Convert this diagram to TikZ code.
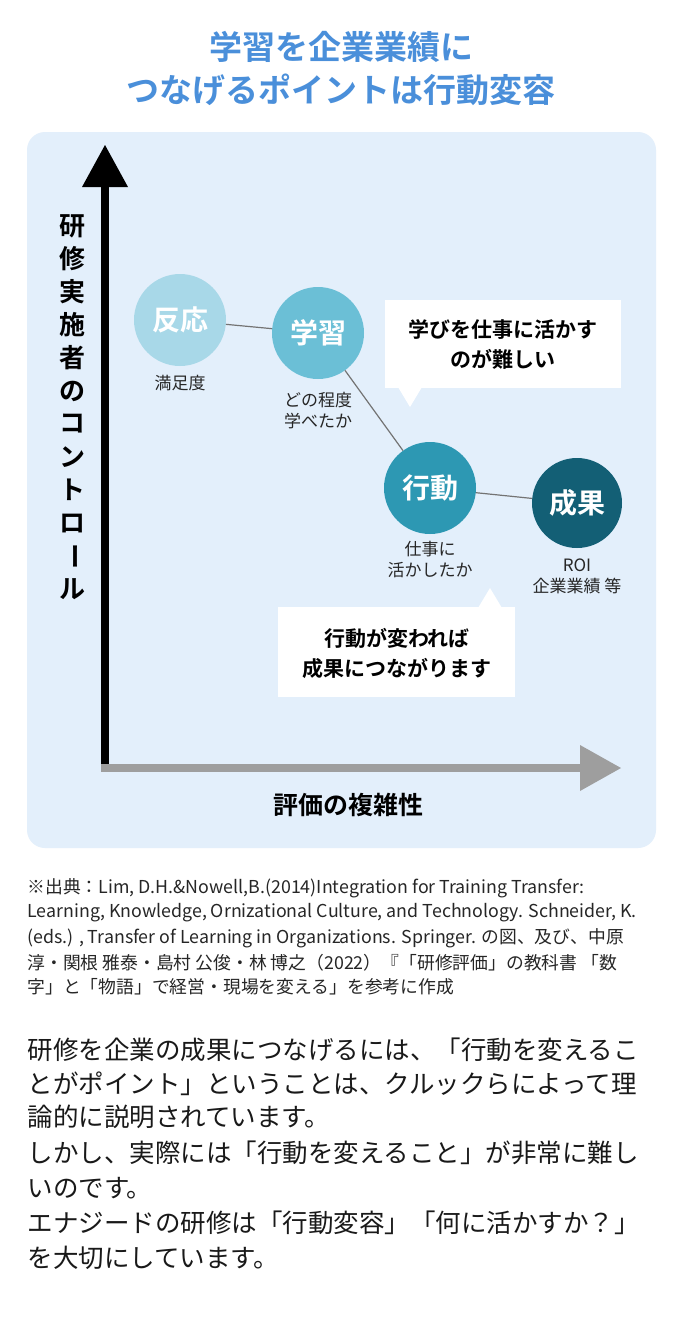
\documentclass[tikz,border=0pt]{standalone}
\usepackage{fontspec}
\setmainfont{Noto Sans CJK JP}[BoldFont={* Bold}]
\begin{document}
\begin{tikzpicture}[x=1pt,y=-1pt,
  circ/.style={circle,minimum size=92pt,inner sep=0pt,text=white,font=\fontsize{28}{30}\selectfont\bfseries},
  lab/.style={font=\fontsize{17}{21}\selectfont,align=center,text=black!85},
  conn/.style={draw=black!55,line width=1.2pt},
  calltext/.style={font=\fontsize{21}{30}\selectfont\bfseries,align=center},
  src/.style={anchor=west,font=\fontsize{17.8}{20}\selectfont,text=black!85},
  body/.style={anchor=west,font=\fontsize{25.5}{30}\selectfont,text=black!90}]
\useasboundingbox (0,0) rectangle (682,1318);
\fill[white] (0,0) rectangle (682,1318);
\definecolor{ttl}{HTML}{4A8FDA}
\node[text=ttl,font=\fontsize{33}{40}\selectfont\bfseries] (t1) at (341,47) {学習を企業業績に};
\node[text=ttl,font=\fontsize{33}{40}\selectfont\bfseries] (t2) at (341,90) {つなげるポイントは行動変容};
\fill[fill={rgb,255:red,227;green,239;blue,251},rounded corners=18pt] (27,132) rectangle (656,848);
% axes
\draw[line width=8pt,black] (105,770) -- (105,180);
\fill[black] (82,187) -- (105,145) -- (128,187) -- cycle;
\draw[line width=8pt,black!38] (101,768) -- (585,768);
\fill[black!38] (580,745) -- (621,768) -- (580,791) -- cycle;
\foreach \c [count=\i] in {研,修,実,施,者,の,コ,ン,ト,ロ}
  \node[font=\fontsize{26}{28}\selectfont\bfseries] (v\i) at (72,{193+33*\i}) {\c};
\node[font=\fontsize{26}{28}\selectfont\bfseries,rotate=-90] (v11) at (72,556) {ー};
\node[font=\fontsize{26}{28}\selectfont\bfseries] (v12) at (72,589) {ル};
\node[font=\fontsize{25}{28}\selectfont\bfseries] (xl) at (348,805) {評価の複雑性};
% circles
\node[circ,fill={rgb,255:red,168;green,216;blue,232}] (a) at (180,320) {反応};
\node[circ,fill={rgb,255:red,107;green,191;blue,214}] (b) at (318,333) {学習};
\node[circ,fill={rgb,255:red,45;green,152;blue,179}] (c) at (430,488) {行動};
\node[circ,fill={rgb,255:red,19;green,95;blue,117},minimum size=90pt] (d) at (577,503) {成果};
\draw[conn] (a) -- (b);
\draw[conn] (b) -- (c);
\draw[conn] (c) -- (d);
\node[lab] (la) at (180,383) {満足度};
\node[lab] (lb) at (318,411) {どの程度\\学べたか};
\node[lab] (lc) at (430,560) {仕事に\\活かしたか};
\node[lab] (ld) at (577,576) {ROI\\企業業績 等};
% callouts
\fill[white] (385,300) rectangle (621,388);
\fill[white] (398,387) -- (410,407) -- (422,387) -- cycle;
\node[calltext] (c1) at (503,344) {学びを仕事に活かす\\のが難しい};
\fill[white] (278,607) rectangle (515,697);
\fill[white] (478,608) -- (490,588) -- (502,608) -- cycle;
\node[calltext] (c2) at (397,653) {行動が変われば\\成果につながります};
% source
\node[src] (s1) at (24,888) {※出典：Lim, D.H.\&Nowell,B.(2014)Integration for Training Transfer:};
\node[src] (s2) at (24,913) {Learning, Knowledge, Ornizational Culture, and Technology. Schneider, K.};
\node[src] (s3) at (24,938) {(eds.) , Transfer of Learning in Organizations. Springer. の図、及び、中原};
\node[src] (s4) at (24,963) {淳・関根 雅泰・島村 公俊・林 博之（2022）『「研修評価」の教科書 「数};
\node[src] (s5) at (24,987) {字」と「物語」で経営・現場を変える」を参考に作成};
% body
\node[body] (b1) at (24,1050) {研修を企業の成果につなげるには、「行動を変えるこ};
\node[body] (b2) at (24,1084) {とがポイント」ということは、クルックらによって理};
\node[body] (b3) at (24,1117) {論的に説明されています。};
\node[body] (b4) at (24,1153) {しかし、実際には「行動を変えること」が非常に難し};
\node[body] (b5) at (24,1188) {いのです。};
\node[body] (b6) at (24,1223) {エナジードの研修は「行動変容」「何に活かすか？」};
\node[body] (b7) at (24,1258) {を大切にしています。};
\end{tikzpicture}
\end{document}
